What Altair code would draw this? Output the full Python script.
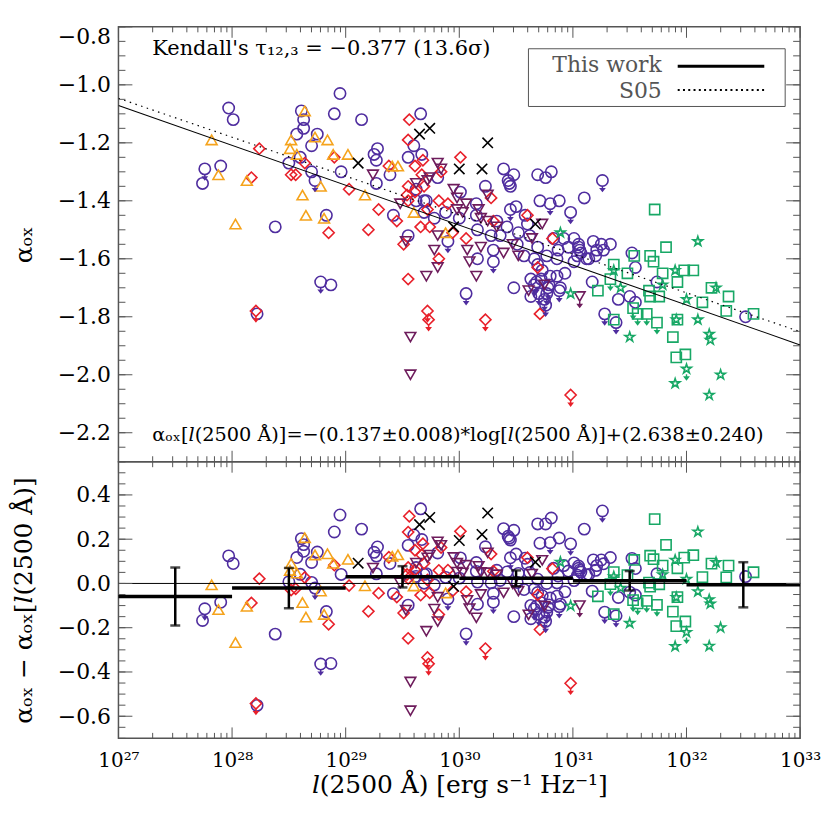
import altair as alt
import pandas as pd

# ---------------- data: (log10 l2500, alpha_ox, upper-limit flag) ----------------
circles = [
    (27.97, -1.08, 0), (28.01, -1.12, 0), (27.76, -1.29, 1), (27.74, -1.34, 0), (27.90, -1.28, 0),
    (28.61, -1.09, 0), (28.63, -1.12, 0), (28.63, -1.15, 0), (28.57, -1.17, 0), (28.70, -1.21, 0),
    (28.75, -1.17, 0), (28.95, -1.03, 0), (28.90, -1.10, 0), (29.14, -1.12, 0), (28.50, -1.27, 0),
    (28.60, -1.25, 0), (28.70, -1.30, 0), (28.73, -1.33, 1), (28.96, -1.30, 0), (28.83, -1.45, 0),
    (28.38, -1.49, 0), (28.78, -1.68, 1), (28.87, -1.69, 0), (28.22, -1.79, 0), (29.25, -1.24, 0),
    (29.28, -1.22, 0), (29.27, -1.26, 0), (29.27, -1.34, 0), (29.39, -1.31, 0), (29.42, -1.45, 0),
    (29.55, -1.52, 0), (29.55, -1.25, 0), (29.66, -1.10, 0), (29.60, -1.21, 0), (29.67, -1.24, 0),
    (29.62, -1.36, 0), (29.62, -1.40, 0), (29.69, -1.40, 0), (29.78, -1.46, 0), (29.81, -1.32, 0),
    (30.01, -1.37, 0), (30.15, -1.41, 0), (30.23, -1.35, 0), (30.39, -1.29, 0), (30.48, -1.31, 0),
    (30.43, -1.33, 0), (30.44, -1.34, 0), (30.45, -1.35, 0), (30.69, -1.31, 0), (30.76, -1.32, 0),
    (30.81, -1.30, 0), (30.71, -1.40, 0), (30.80, -1.41, 1), (30.88, -1.40, 0), (31.10, -1.39, 0),
    (30.98, -1.44, 1), (30.50, -1.42, 0), (30.45, -1.43, 1), (30.58, -1.45, 0), (30.33, -1.47, 0),
    (30.42, -1.49, 0), (30.52, -1.51, 0), (30.62, -1.52, 0), (30.60, -1.48, 0), (30.15, -1.45, 0),
    (30.00, -1.46, 0), (29.90, -1.54, 1), (30.16, -1.60, 0), (30.30, -1.61, 1), (30.83, -1.53, 0),
    (30.92, -1.53, 0), (31.01, -1.53, 0), (30.87, -1.57, 0), (30.96, -1.56, 0), (31.06, -1.57, 0),
    (31.12, -1.60, 0), (30.86, -1.60, 0), (30.93, -1.65, 0), (30.80, -1.66, 0), (30.72, -1.67, 0),
    (30.79, -1.69, 0), (30.89, -1.70, 0), (30.63, -1.67, 0), (30.69, -1.62, 0), (30.48, -1.70, 0),
    (30.06, -1.72, 1), (30.30, -1.57, 0), (30.69, -1.56, 0), (31.26, -1.33, 1), (31.18, -1.54, 0),
    (31.25, -1.55, 0), (31.33, -1.55, 0), (31.05, -1.56, 0), (31.21, -1.57, 0), (31.27, -1.57, 0),
    (31.20, -1.59, 0), (31.07, -1.58, 0), (31.14, -1.60, 0), (31.01, -1.61, 0), (31.52, -1.58, 0),
    (31.55, -1.63, 0), (31.17, -1.68, 0), (31.40, -1.74, 0), (31.50, -1.73, 0), (31.55, -1.75, 0),
    (31.74, -1.68, 0), (31.28, -1.79, 1), (31.38, -1.82, 1), (32.52, -1.80, 0), (30.88, -1.71, 1),
    (30.76, -1.76, 1), (30.75, -1.74, 1), (30.63, -1.73, 0), (29.71, -1.40, 0), (30.70, -1.72, 1),
    (30.78, -1.70, 1), (30.66, -1.69, 1), (30.51, -1.55, 0), (30.57, -1.59, 0), (30.66, -1.60, 0),
    (30.77, -1.59, 0), (30.73, -1.64, 0), (30.86, -1.66, 0), (30.68, -1.68, 1), (30.77, -1.72, 1),
    (31.04, -1.59, 0), (31.05, -1.55, 0), (30.36, -1.52, 0), (30.16, -1.50, 0), (30.28, -1.52, 0),
    (29.69, -1.44, 0), (29.88, -1.44, 0),
]
diamonds = [
    (28.24, -1.22, 0), (28.17, -1.32, 0), (28.52, -1.31, 0), (28.56, -1.31, 0), (28.64, -1.27, 0),
    (28.90, -1.25, 0), (29.03, -1.36, 0), (29.29, -1.43, 0), (29.20, -1.50, 0), (28.85, -1.51, 0),
    (29.45, -1.47, 0), (29.38, -1.28, 0), (28.21, -1.78, 1), (29.56, -1.12, 0), (29.55, -1.19, 0),
    (29.55, -1.35, 0), (29.55, -1.67, 0), (29.51, -1.55, 0), (29.61, -1.28, 0), (29.68, -1.26, 0),
    (29.67, -1.31, 0), (30.01, -1.25, 0), (29.84, -1.30, 0), (29.69, -1.35, 0), (29.54, -1.38, 0),
    (29.66, -1.49, 0), (29.74, -1.49, 0), (29.82, -1.40, 0), (29.90, -1.41, 0), (30.28, -1.39, 0),
    (30.06, -1.53, 0), (29.94, -1.51, 0), (29.82, -1.60, 0), (30.60, -1.45, 0), (30.30, -1.47, 0),
    (30.82, -1.53, 0), (30.69, -1.63, 0), (29.72, -1.43, 0), (29.72, -1.78, 1), (29.73, -1.81, 1),
    (30.23, -1.81, 1), (30.71, -1.79, 0), (30.98, -2.07, 1), (29.55, -1.40, 0), (29.61, -1.37, 0),
]
tri_up = [
    (27.82, -1.19, 0), (27.88, -1.31, 0), (28.13, -1.33, 0), (28.03, -1.48, 0), (28.64, -1.09, 0),
    (28.52, -1.19, 0), (28.51, -1.22, 0), (28.57, -1.24, 0), (28.73, -1.18, 0), (28.84, -1.19, 0),
    (28.89, -1.24, 0), (29.02, -1.24, 0), (28.78, -1.35, 0), (28.62, -1.38, 0), (28.65, -1.45, 0),
    (28.81, -1.46, 0), (29.17, -1.38, 0), (29.41, -1.28, 0), (29.46, -1.28, 0), (29.60, -1.44, 0),
    (29.88, -1.51, 0),
]
tri_down = [
    (29.24, -1.31, 0), (29.48, -1.41, 0), (29.53, -1.54, 0), (29.81, -1.27, 0), (29.84, -1.29, 0),
    (29.74, -1.32, 0), (29.72, -1.33, 0), (29.62, -1.34, 0), (29.95, -1.36, 0), (29.98, -1.39, 0),
    (30.06, -1.41, 0), (29.98, -1.43, 0), (30.25, -1.38, 0), (30.17, -1.43, 0), (30.19, -1.46, 0),
    (30.25, -1.47, 0), (29.81, -1.52, 0), (29.78, -1.57, 0), (30.07, -1.57, 0), (30.19, -1.56, 0),
    (30.09, -1.61, 0), (29.81, -1.63, 0), (29.71, -1.66, 0), (30.15, -1.66, 0), (30.39, -1.58, 0),
    (30.52, -1.59, 0), (30.47, -1.55, 0), (30.64, -1.53, 0), (30.73, -1.48, 0), (30.61, -1.71, 0),
    (30.75, -1.69, 0), (31.06, -1.73, 1), (30.33, -1.49, 0), (30.03, -1.44, 0), (29.57, -1.87, 0),
    (29.57, -2.00, 0),
]
crosses = [
    (29.11, -1.27, 0), (29.65, -1.17, 0), (29.74, -1.15, 0), (30.25, -1.20, 0), (30.00, -1.29, 0),
    (30.20, -1.29, 0), (30.67, -1.48, 0), (29.95, -1.49, 0),
]
squares = [
    (31.72, -1.43, 0), (31.82, -1.56, 0), (31.36, -1.62, 0), (31.48, -1.65, 0), (31.54, -1.59, 0),
    (31.68, -1.59, 0), (31.71, -1.61, 0), (31.79, -1.65, 0), (31.98, -1.64, 0), (32.06, -1.64, 0),
    (31.92, -1.68, 0), (31.22, -1.71, 0), (31.67, -1.71, 0), (31.68, -1.73, 0), (31.76, -1.73, 0),
    (32.22, -1.70, 0), (32.37, -1.73, 0), (32.14, -1.75, 0), (32.35, -1.78, 0), (32.59, -1.79, 0),
    (31.53, -1.77, 1), (31.57, -1.79, 1), (31.65, -1.79, 1), (31.74, -1.82, 1), (31.36, -1.81, 0),
    (31.92, -1.81, 0), (31.88, -1.87, 0), (31.91, -1.94, 0), (31.99, -1.93, 0), (31.33, -1.67, 1),
]
stars = [
    (30.89, -1.51, 0), (30.98, -1.72, 0), (32.10, -1.54, 0), (31.90, -1.64, 0), (31.36, -1.64, 0),
    (31.42, -1.70, 0), (31.79, -1.69, 0), (32.00, -1.74, 0), (32.26, -1.70, 0), (32.10, -1.81, 0),
    (31.91, -1.81, 0), (32.20, -1.86, 0), (32.21, -1.88, 0), (31.50, -1.87, 0), (32.00, -1.98, 1),
    (31.90, -2.03, 0), (32.30, -2.00, 0), (32.20, -2.07, 0),
]

# fitted relations (slope, intercept in log l)
fit_names = ["This work", "S05"]
fit_slope = [-0.1377, -0.1342]
fit_icpt = [2.647, 2.577]

# binned residuals
bin_lo = [27, 28, 29, 30, 31, 32]
bin_hi = [28, 29, 30, 31, 32, 33]
bin_mean = [-0.059, -0.021, 0.030, 0.023, 0.012, -0.006]
bin_err = [0.131, 0.091, 0.048, 0.036, 0.044, 0.102]

# axis ticks
x_decades = [27, 28, 29, 30, 31, 32, 33]
top_major = [-2.2, -2.0, -1.8, -1.6, -1.4, -1.2, -1.0, -0.8]
bot_major = [-0.6, -0.4, -0.2, 0.0, 0.2, 0.4]

# ---------------- styling ----------------
W, H1, H2 = 685, 437, 278
FONT = "DejaVu Serif, DejaVu Sans"
TC = "#555555"
X_PATH = "M-1,-1L1,1M-1,1L1,-1"
STAR_PATH = ("M0,-1L0.2245,-0.309L0.951,-0.309L0.363,0.118L0.588,0.809L0,0.382"
             "L-0.588,0.809L-0.363,0.118L-0.951,-0.309L-0.2245,-0.309Z")
ARROW_PATH = "M0,1L0,1.7M-0.38,1.55L0,2.05L0.38,1.55Z"

kinds = ["circle", "diamond", "tri_up", "tri_down", "cross", "square", "star"]
k_color = ["#4f2d9f", "#e8202a", "#f5a31c", "#6e1c5c", "#000000", "#18a866", "#18a866"]
k_shape = ["circle", "diamond", "triangle-up", "triangle-down", X_PATH, "square", STAR_PATH]
k_size = [130, 100, 130, 140, 85, 120, 270]

rows = []
for kind, pts in zip(kinds, [circles, diamonds, tri_up, tri_down, crosses, squares, stars]):
    for lg, a, lim in pts:
        rows.append({"kind": kind, "logl": lg, "aox": a, "lim": lim})
df = pd.DataFrame(rows)
df["L"] = 10.0 ** df["logl"]
df["res"] = df["aox"] - (fit_slope[0] * df["logl"] + fit_icpt[0])
lim_df = df[df["lim"] == 1]

fit_rows = []
for n, s, b in zip(fit_names, fit_slope, fit_icpt):
    for lg in (27.0, 33.0):
        fit_rows.append({"name": n, "L": 10.0 ** lg, "aox": s * lg + b})
fit_df = pd.DataFrame(fit_rows)

bins = pd.DataFrame({"lo": [10.0 ** v for v in bin_lo], "hi": [10.0 ** v for v in bin_hi],
                     "mid": [10.0 ** ((a + b) / 2) for a, b in zip(bin_lo, bin_hi)],
                     "mean": bin_mean, "err": bin_err})
bins["top"] = bins["mean"] + bins["err"]
bins["bot"] = bins["mean"] - bins["err"]

one = pd.DataFrame({"a": [0]})

xscale = alt.Scale(type="log", domain=[1e27, 1e33], nice=False)
ytop_scale = alt.Scale(domain=[-2.3, -0.8], nice=False, zero=False)
ybot_scale = alt.Scale(domain=[-0.7, 0.55], nice=False, zero=False)

color_enc = alt.Color("kind:N", scale=alt.Scale(domain=kinds, range=k_color), legend=None)
shape_enc = alt.Shape("kind:N", scale=alt.Scale(domain=kinds, range=k_shape), legend=None)
size_enc = alt.Size("kind:N", scale=alt.Scale(domain=kinds, range=k_size), legend=None)
fill_enc = alt.Fill("kind:N", scale=alt.Scale(domain=kinds, range=k_color), legend=None)
stroke_enc = alt.Stroke("kind:N", scale=alt.Scale(domain=kinds, range=k_color), legend=None)


def yaxis(title, values, flush):
    return alt.Axis(values=values, format=".1f", title=title, ticks=False, domain=False, grid=False,
                    labelFont=FONT, labelFontSize=22, labelPadding=8, labelFlush=flush,
                    labelColor="black", titleColor="black", titleFont=FONT, titleFontSize=25,
                    titleFontWeight="normal", titlePadding=16, minExtent=66, maxExtent=66)


top_y_axis = yaxis("αₒₓ", top_major, True)
bot_y_axis = yaxis("αₒₓ − αₒₓ[𝑙(2500 Å)]", bot_major, False)
bot_x_axis = alt.Axis(
    values=[10.0 ** e for e in x_decades], ticks=False, domain=False, grid=False,
    labelExpr=("'10' + substring('⁰¹²³⁴⁵⁶⁷⁸⁹', floor(round(log(datum.value)/LN10)/10), "
               "floor(round(log(datum.value)/LN10)/10)+1) + "
               "substring('⁰¹²³⁴⁵⁶⁷⁸⁹', round(log(datum.value)/LN10)%10, "
               "round(log(datum.value)/LN10)%10+1)"),
    labelFont=FONT, labelFontSize=20, labelPadding=12, labelFlush=False,
    labelColor="black", title="𝑙(2500 Å) [erg s⁻¹ Hz⁻¹]", titleFont=FONT,
    titleFontSize=25, titleFontWeight="normal", titleColor="black", titlePadding=2)

x_major_df = pd.DataFrame({"v": [10.0 ** e for e in x_decades]})
x_minor_df = pd.DataFrame({"v": [k * 10.0 ** e for e in x_decades[:-1] for k in range(2, 10)]})


def tick_layers(H, yscale, xaxis, yax, majors, lo, hi):
    minors = []
    v = lo
    while v <= hi + 1e-9:
        minors.append(round(v, 3))
        v += 0.05
    ymaj = pd.DataFrame({"v": majors})
    ymin = pd.DataFrame({"v": minors})
    xe = alt.X("v:Q", scale=xscale, axis=xaxis)
    ye = alt.Y("v:Q", scale=yscale, axis=yax)
    L = []
    for d, ln in ((x_major_df, 11), (x_minor_df, 5.5)):
        L.append(alt.Chart(d).mark_rule(color=TC, strokeWidth=1).encode(
            x=xe, y=alt.value(0), y2=alt.value(ln)))
        L.append(alt.Chart(d).mark_rule(color=TC, strokeWidth=1).encode(
            x=xe, y=alt.value(H), y2=alt.value(H - ln)))
    for d, ln in ((ymaj, 14), (ymin, 7)):
        L.append(alt.Chart(d).mark_rule(color=TC, strokeWidth=1).encode(
            y=ye, x=alt.value(0), x2=alt.value(ln)))
        L.append(alt.Chart(d).mark_rule(color=TC, strokeWidth=1).encode(
            y=ye, x=alt.value(W), x2=alt.value(W - ln)))
    return L


# ---------------- top panel ----------------
xt = lambda f: alt.X(f, scale=xscale, axis=None)
yt = lambda f: alt.Y(f, scale=ytop_scale, axis=top_y_axis)

pts_top = alt.Chart(df).mark_point(filled=False, strokeWidth=1.6, opacity=1).encode(
    x=xt("L:Q"), y=yt("aox:Q"), color=color_enc, shape=shape_enc, size=size_enc)

arr_top = alt.Chart(lim_df).mark_point(shape=ARROW_PATH, size=110, filled=True,
                                       strokeWidth=1.4, opacity=1).encode(
    x=xt("L:Q"), y=yt("aox:Q"), fill=fill_enc, stroke=stroke_enc)

line_this = alt.Chart(fit_df[fit_df["name"] == "This work"]).mark_line(
    color="black", strokeWidth=1.1, clip=True).encode(x=xt("L:Q"), y=yt("aox:Q"))
line_s05 = alt.Chart(fit_df[fit_df["name"] == "S05"]).mark_line(
    color="black", strokeWidth=1.2, strokeDash=[1.5, 4.5], clip=True).encode(x=xt("L:Q"), y=yt("aox:Q"))

kendall = alt.Chart(one).mark_text(align="left", baseline="middle", font=FONT, fontSize=21,
                                   color="black").encode(
    x=alt.value(34), y=alt.value(22), text=alt.value("Kendall's τ₁₂,₃ = −0.377 (13.6σ)"))
equation = alt.Chart(one).mark_text(align="left", baseline="middle", font=FONT, fontSize=19.4,
                                    color="black").encode(
    x=alt.value(34), y=alt.value(410),
    text=alt.value("αₒₓ[𝑙(2500 Å)]=−(0.137±0.008)*log[𝑙(2500 Å)]+(2.638±0.240)"))

leg_box = alt.Chart(one).mark_rect(fillOpacity=0, stroke=TC, strokeWidth=1).encode(
    x=alt.value(412), x2=alt.value(670), y=alt.value(22), y2=alt.value(80))
leg_t1 = alt.Chart(one).mark_text(align="right", baseline="middle", font=FONT,
                                  fontSize=22, color="#555555").encode(
    x=alt.value(546), y=alt.value(38), text=alt.value("This work"))
leg_t2 = alt.Chart(one).mark_text(align="right", baseline="middle", font=FONT,
                                  fontSize=22, color="#555555").encode(
    x=alt.value(546), y=alt.value(64), text=alt.value("S05"))
leg_l1 = alt.Chart(one).mark_rule(color="black", strokeWidth=3).encode(
    x=alt.value(562), x2=alt.value(649), y=alt.value(39.5))
leg_l2 = alt.Chart(one).mark_rule(color="black", strokeWidth=2, strokeDash=[2, 3.3]).encode(
    x=alt.value(562), x2=alt.value(649), y=alt.value(63.5))

top = alt.layer(
    pts_top, line_s05, line_this, arr_top, kendall, equation,
    leg_box, leg_t1, leg_t2, leg_l1, leg_l2,
    *tick_layers(H1, ytop_scale, None, top_y_axis, top_major, -2.3, -0.8)
).properties(width=W, height=H1)

# ---------------- bottom panel ----------------
xb = lambda f: alt.X(f, scale=xscale, axis=bot_x_axis)
yb = lambda f: alt.Y(f, scale=ybot_scale, axis=bot_y_axis)

pts_bot = alt.Chart(df).mark_point(filled=False, strokeWidth=1.6, opacity=1).encode(
    x=xb("L:Q"), y=yb("res:Q"), color=color_enc, shape=shape_enc, size=size_enc)

arr_bot = alt.Chart(lim_df).mark_point(shape=ARROW_PATH, size=110, filled=True,
                                       strokeWidth=1.4, opacity=1).encode(
    x=xb("L:Q"), y=yb("res:Q"), fill=fill_enc, stroke=stroke_enc)

zero = alt.Chart(pd.DataFrame({"z": [0.0]})).mark_rule(color="black", strokeWidth=1).encode(
    y=yb("z:Q"), x=alt.value(0), x2=alt.value(W))

seg = alt.Chart(bins).mark_rule(color="black", strokeWidth=3.5).encode(
    x=xb("lo:Q"), x2="hi:Q", y=yb("mean:Q"))
ebar = alt.Chart(bins).mark_rule(color="black", strokeWidth=2.5).encode(
    x=xb("mid:Q"), y=yb("top:Q"), y2="bot:Q")
cap_t = alt.Chart(bins).mark_tick(color="black", orient="horizontal", size=10, thickness=2.5).encode(
    x=xb("mid:Q"), y=yb("top:Q"))
cap_b = alt.Chart(bins).mark_tick(color="black", orient="horizontal", size=10, thickness=2.5).encode(
    x=xb("mid:Q"), y=yb("bot:Q"))

bottom = alt.layer(
    pts_bot, arr_bot, zero, seg, ebar, cap_t, cap_b,
    *tick_layers(H2, ybot_scale, bot_x_axis, bot_y_axis, bot_major, -0.7, 0.55)
).properties(width=W, height=H2)

chart = alt.vconcat(top, bottom, spacing=0, bounds="flush").properties(
    padding={"left": 3, "top": 15, "right": 0, "bottom": 5}
).configure_view(stroke="#555555", strokeWidth=1.5)

chart.save("out.html", embed_options={"renderer": "svg", "actions": False})
